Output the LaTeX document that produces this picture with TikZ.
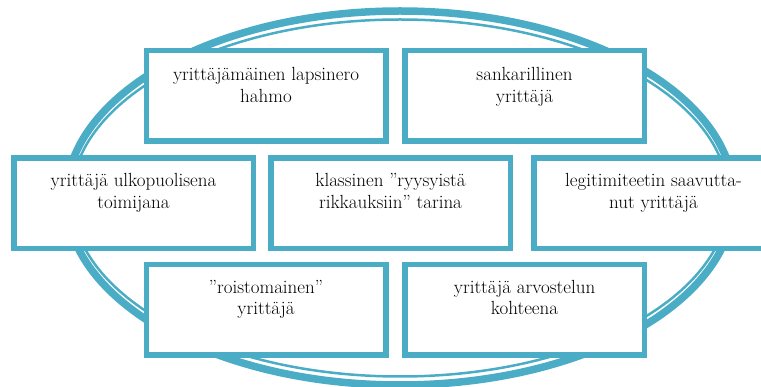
\documentclass[tikz,border=0pt]{standalone}
\definecolor{accentblue}{HTML}{4BACC6}
\begin{document}
\begin{tikzpicture}[x=1pt,y=-1pt,
  boxstyle/.style={draw=accentblue, line width=5.5pt, fill=white, rectangle,
    minimum width=239.5pt, minimum height=90.5pt, inner sep=0pt},
  lbl/.style={anchor=base, align=center, inner sep=0pt,
    font=\rmfamily\fontsize{19pt}{21.5pt}\selectfont}]
\useasboundingbox (0,0) rectangle (761,387);
\clip (0,0) rectangle (761,387);
% double ellipse
\draw[accentblue, line width=7.5pt] (400,198) ellipse [x radius=334pt, y radius=187pt];
\draw[accentblue, line width=2.5pt] (400,198) ellipse [x radius=328.5pt, y radius=178.5pt];
% boxes
\node[boxstyle] (b1) at (266,96) {};
\node[boxstyle] (b2) at (524.5,96) {};
\node[boxstyle] (b3) at (133.5,203.5) {};
\node[boxstyle] (b4) at (390.5,203.5) {};
\node[boxstyle] (b5) at (653.5,203.5) {};
\node[boxstyle] (b6) at (266,310) {};
\node[boxstyle] (b7) at (524.5,310) {};
% labels (base anchor = last line's baseline)
\node[lbl] (t1) at (266,102.5) {yrittäjämäinen lapsinero\\hahmo};
\node[lbl] (t2) at (524.5,102.5) {sankarillinen\\yrittäjä};
\node[lbl] (t3) at (133.5,208.5) {yrittäjä ulkopuolisena\\toimijana};
\node[lbl] (t4) at (390.5,208.5) {klassinen ”ryysyistä\\rikkauksiin” tarina};
\node[lbl] (t5) at (653.5,208.5) {legitimiteetin saavutta-\\nut yrittäjä};
\node[lbl] (t6) at (266,315) {”roistomainen”\\yrittäjä};
\node[lbl] (t7) at (524.5,315) {yrittäjä arvostelun\\kohteena};
\end{tikzpicture}
\end{document}
